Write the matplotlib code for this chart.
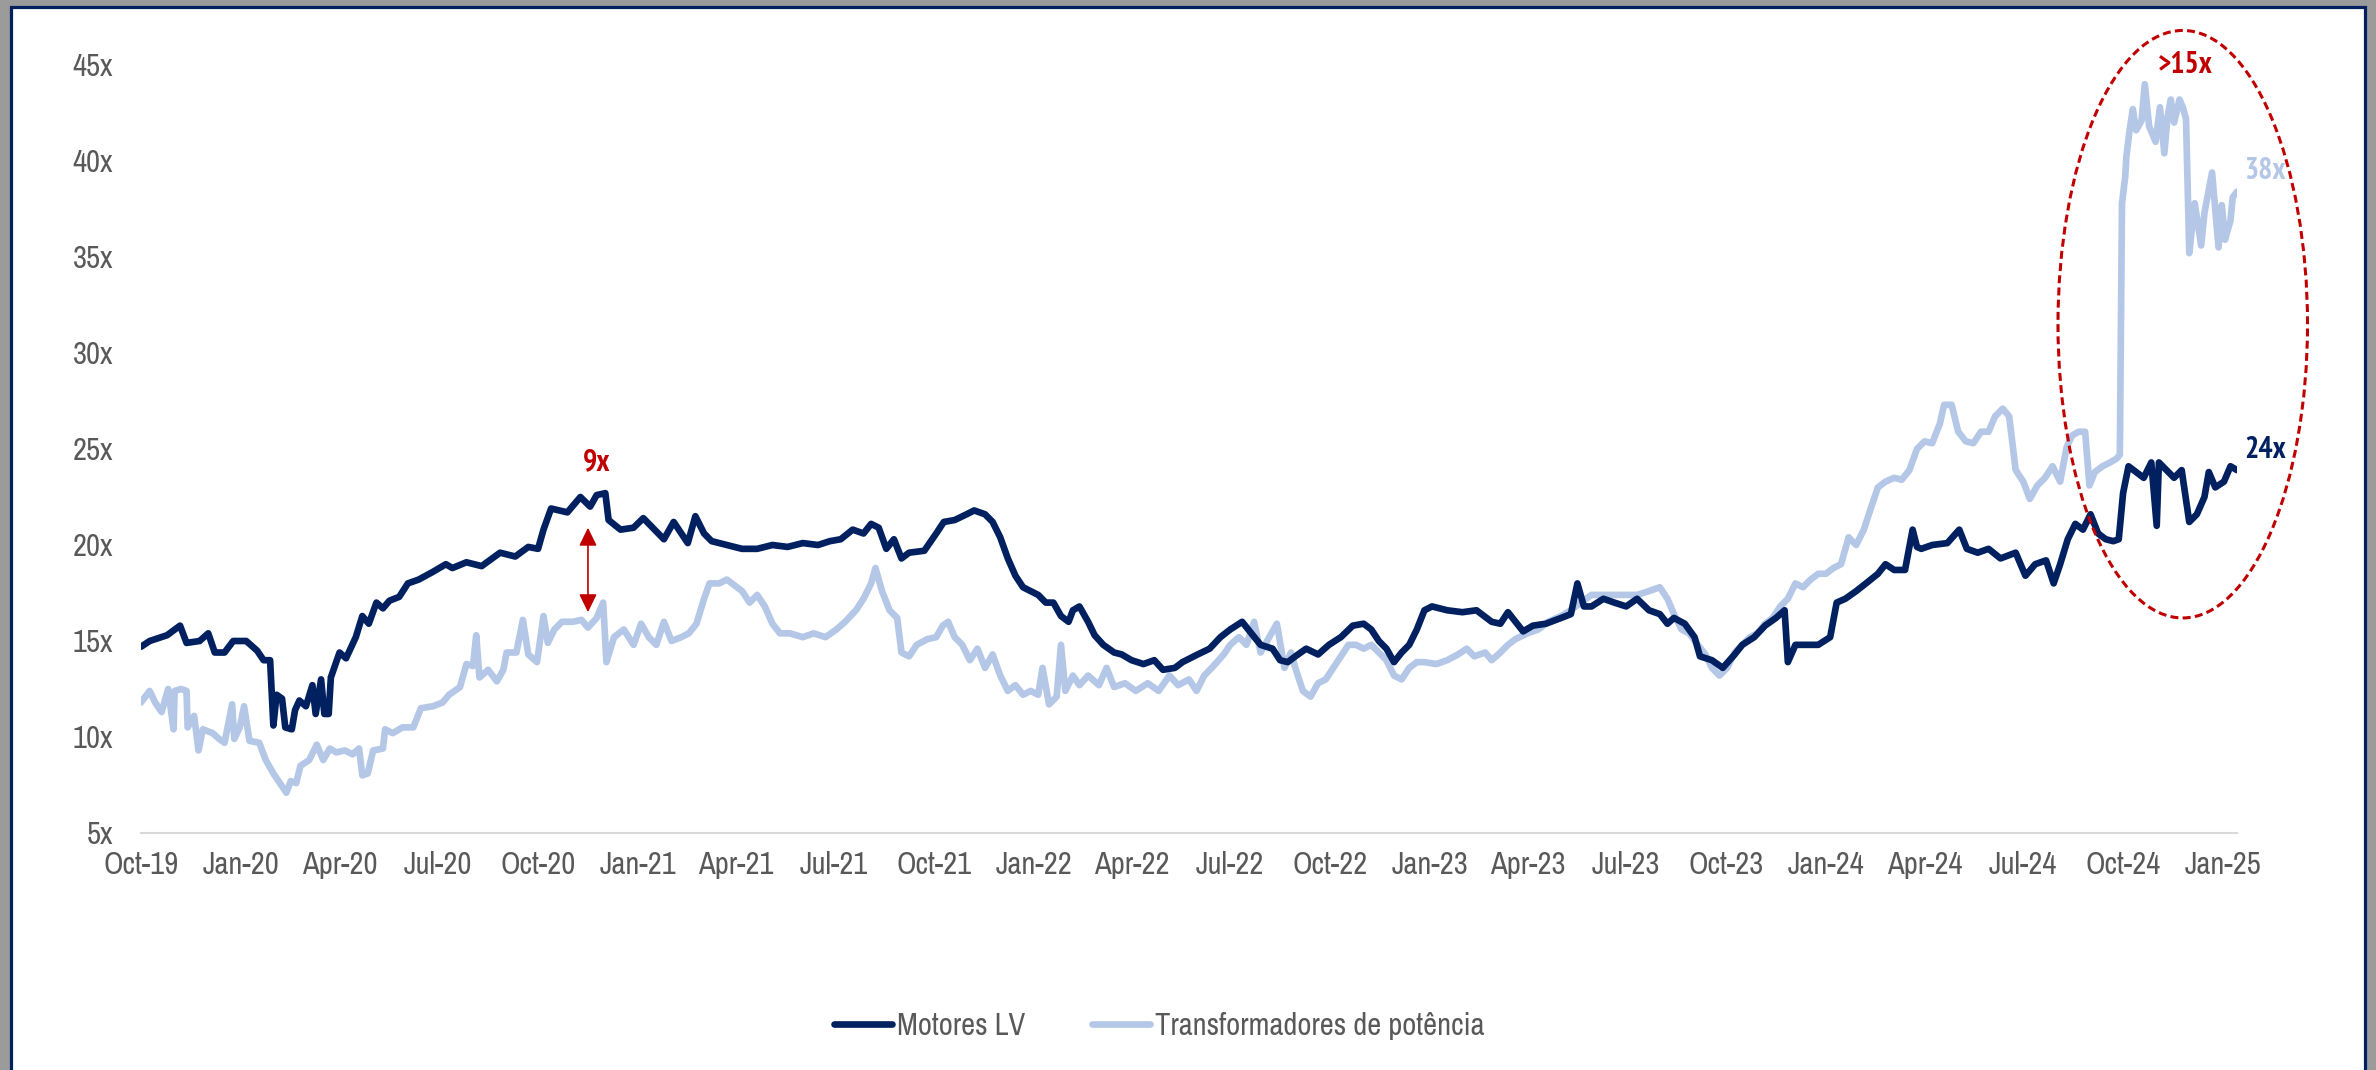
import matplotlib
matplotlib.use("Agg")
import matplotlib.pyplot as plt
import matplotlib.dates as mdates
from matplotlib import font_manager
from matplotlib.patches import Ellipse, Rectangle
import pandas as pd

#%% data

motores_dates = [
    "2019-10-01", "2019-10-09", "2019-10-25", "2019-11-06", "2019-11-12", "2019-11-24", "2019-12-02",
    "2019-12-08", "2019-12-17", "2019-12-25", "2020-01-06", "2020-01-16", "2020-01-22", "2020-01-28",
    "2020-01-31", "2020-02-03", "2020-02-08", "2020-02-11", "2020-02-17", "2020-02-20", "2020-02-24",
    "2020-03-01", "2020-03-07", "2020-03-10", "2020-03-15", "2020-03-18", "2020-03-22", "2020-03-24",
    "2020-04-01", "2020-04-07", "2020-04-16", "2020-04-22", "2020-04-28", "2020-05-05", "2020-05-11",
    "2020-05-17", "2020-05-26", "2020-06-03", "2020-06-13", "2020-06-26", "2020-07-08", "2020-07-14",
    "2020-07-27", "2020-08-10", "2020-08-27", "2020-09-10", "2020-09-22", "2020-10-01", "2020-10-06",
    "2020-10-13", "2020-10-28", "2020-11-09", "2020-11-18", "2020-11-24", "2020-12-02", "2020-12-05",
    "2020-12-16", "2020-12-28", "2021-01-06", "2021-01-25", "2021-02-03", "2021-02-16", "2021-02-23",
    "2021-03-03", "2021-03-10", "2021-03-24", "2021-04-07", "2021-04-21", "2021-05-05", "2021-05-19",
    "2021-06-02", "2021-06-16", "2021-06-27", "2021-07-07", "2021-07-18", "2021-07-28", "2021-08-04",
    "2021-08-11", "2021-08-18", "2021-08-25", "2021-09-01", "2021-09-08", "2021-09-22", "2021-10-03",
    "2021-10-10", "2021-10-20", "2021-10-31", "2021-11-07", "2021-11-17", "2021-11-24", "2021-12-01",
    "2021-12-08", "2021-12-15", "2021-12-22", "2021-12-29", "2022-01-05", "2022-01-12", "2022-01-19",
    "2022-01-26", "2022-02-02", "2022-02-06", "2022-02-12", "2022-02-20", "2022-02-26", "2022-03-06",
    "2022-03-16", "2022-03-23", "2022-04-01", "2022-04-12", "2022-04-22", "2022-04-30", "2022-05-11",
    "2022-05-18", "2022-06-01", "2022-06-12", "2022-06-22", "2022-07-01", "2022-07-12", "2022-07-19",
    "2022-07-29", "2022-08-09", "2022-08-16", "2022-08-23", "2022-08-30", "2022-09-09", "2022-09-20",
    "2022-09-30", "2022-10-11", "2022-10-22", "2022-11-01", "2022-11-08", "2022-11-15", "2022-11-22",
    "2022-11-29", "2022-12-06", "2022-12-13", "2022-12-20", "2022-12-27", "2023-01-03", "2023-01-17",
    "2023-01-31", "2023-02-13", "2023-02-27", "2023-03-07", "2023-03-14", "2023-03-28", "2023-04-06",
    "2023-04-18", "2023-05-02", "2023-05-11", "2023-05-17", "2023-05-23", "2023-05-30", "2023-06-10",
    "2023-06-20", "2023-07-01", "2023-07-11", "2023-07-22", "2023-08-01", "2023-08-08", "2023-08-14",
    "2023-08-24", "2023-09-02", "2023-09-07", "2023-09-18", "2023-09-28", "2023-10-09", "2023-10-16",
    "2023-10-27", "2023-11-06", "2023-11-16", "2023-11-24", "2023-11-27", "2023-12-04", "2023-12-14",
    "2023-12-25", "2024-01-05", "2024-01-11", "2024-01-19", "2024-01-29", "2024-02-07", "2024-02-18",
    "2024-02-25", "2024-03-04", "2024-03-14", "2024-03-21", "2024-03-25", "2024-03-29", "2024-04-08",
    "2024-04-22", "2024-05-03", "2024-05-10", "2024-05-20", "2024-05-30", "2024-06-10", "2024-06-24",
    "2024-07-03", "2024-07-12", "2024-07-22", "2024-07-29", "2024-08-04", "2024-08-11", "2024-08-18",
    "2024-08-25", "2024-09-01", "2024-09-08", "2024-09-15", "2024-09-22", "2024-09-27", "2024-10-01",
    "2024-10-06", "2024-10-13", "2024-10-20", "2024-10-27", "2024-11-01", "2024-11-03", "2024-11-10",
    "2024-11-17", "2024-11-24", "2024-12-01", "2024-12-08", "2024-12-15", "2024-12-19", "2024-12-25",
    "2025-01-02", "2025-01-08", "2025-01-14",
]
motores_vals = [
    14.7, 15.0, 15.3, 15.8, 14.9, 15.0, 15.4,
    14.4, 14.4, 15.0, 15.0, 14.5, 14.0, 14.0,
    10.6, 12.2, 12.0, 10.5, 10.4, 11.4, 11.9,
    11.6, 12.7, 11.2, 13.0, 11.2, 11.2, 13.1,
    14.4, 14.1, 15.2, 16.3, 15.9, 17.0, 16.7,
    17.1, 17.3, 18.0, 18.2, 18.6, 19.0, 18.8,
    19.1, 18.9, 19.6, 19.4, 19.9, 19.8, 20.8,
    21.9, 21.7, 22.5, 22.0, 22.6, 22.7, 21.3,
    20.8, 20.9, 21.4, 20.3, 21.2, 20.1, 21.5,
    20.6, 20.2, 20.0, 19.8, 19.8, 20.0, 19.9,
    20.1, 20.0, 20.2, 20.3, 20.8, 20.6, 21.1,
    20.9, 19.8, 20.3, 19.3, 19.6, 19.7, 20.6,
    21.2, 21.3, 21.6, 21.8, 21.6, 21.2, 20.4,
    19.3, 18.4, 17.8, 17.6, 17.4, 17.0, 17.0,
    16.3, 16.0, 16.6, 16.8, 16.0, 15.3, 14.8,
    14.4, 14.3, 14.0, 13.8, 14.0, 13.5, 13.6,
    13.9, 14.3, 14.6, 15.2, 15.6, 16.0, 15.5,
    14.8, 14.6, 14.0, 13.9, 14.2, 14.6, 14.3,
    14.8, 15.2, 15.8, 15.9, 15.6, 15.0, 14.6,
    13.9, 14.4, 14.8, 15.6, 16.6, 16.8, 16.6,
    16.5, 16.6, 16.0, 15.9, 16.5, 15.5, 15.8,
    15.9, 16.2, 16.4, 18.0, 16.8, 16.8, 17.2,
    17.0, 16.8, 17.2, 16.6, 16.4, 15.9, 16.2,
    15.9, 15.2, 14.2, 14.0, 13.6, 14.3, 14.8,
    15.2, 15.8, 16.2, 16.6, 13.9, 14.8, 14.8,
    14.8, 15.2, 17.0, 17.2, 17.6, 18.0, 18.5,
    19.0, 18.7, 18.7, 20.8, 19.9, 19.8, 20.0,
    20.1, 20.8, 19.8, 19.6, 19.8, 19.3, 19.6,
    18.4, 19.0, 19.2, 18.0, 19.0, 20.3, 21.1,
    20.8, 21.6, 20.6, 20.3, 20.2, 20.3, 22.7,
    24.1, 23.8, 23.5, 24.3, 21.0, 24.3, 23.9,
    23.5, 23.9, 21.2, 21.6, 22.5, 23.8, 23.0,
    23.3, 24.1, 23.9,
]

trafo_dates = [
    "2019-10-01", "2019-10-09", "2019-10-14", "2019-10-20", "2019-10-26", "2019-10-31", "2019-11-01",
    "2019-11-07", "2019-11-12", "2019-11-13", "2019-11-19", "2019-11-23", "2019-11-27", "2019-12-06",
    "2019-12-12", "2019-12-17", "2019-12-24", "2019-12-26", "2019-12-31", "2020-01-04", "2020-01-09",
    "2020-01-18", "2020-01-24", "2020-01-31", "2020-02-06", "2020-02-12", "2020-02-16", "2020-02-21",
    "2020-02-25", "2020-03-04", "2020-03-11", "2020-03-17", "2020-03-23", "2020-03-29", "2020-04-06",
    "2020-04-13", "2020-04-19", "2020-04-22", "2020-04-27", "2020-05-02", "2020-05-11", "2020-05-13",
    "2020-05-20", "2020-05-29", "2020-06-08", "2020-06-15", "2020-06-26", "2020-07-05", "2020-07-11",
    "2020-07-21", "2020-07-27", "2020-08-02", "2020-08-05", "2020-08-08", "2020-08-16", "2020-08-24",
    "2020-08-30", "2020-09-02", "2020-09-11", "2020-09-17", "2020-09-22", "2020-09-30", "2020-10-06",
    "2020-10-10", "2020-10-16", "2020-10-23", "2020-11-02", "2020-11-10", "2020-11-16", "2020-11-24",
    "2020-11-30", "2020-12-03", "2020-12-10", "2020-12-19", "2020-12-28", "2021-01-04", "2021-01-11",
    "2021-01-18", "2021-01-25", "2021-02-01", "2021-02-10", "2021-02-17", "2021-02-24", "2021-03-03",
    "2021-03-08", "2021-03-17", "2021-03-24", "2021-03-31", "2021-04-07", "2021-04-14", "2021-04-21",
    "2021-04-28", "2021-05-05", "2021-05-12", "2021-05-21", "2021-06-02", "2021-06-12", "2021-06-23",
    "2021-07-03", "2021-07-11", "2021-07-21", "2021-07-28", "2021-08-04", "2021-08-08", "2021-08-14",
    "2021-08-21", "2021-08-28", "2021-09-01", "2021-09-08", "2021-09-15", "2021-09-25", "2021-10-03",
    "2021-10-09", "2021-10-14", "2021-10-20", "2021-10-27", "2021-11-03", "2021-11-10", "2021-11-17",
    "2021-11-24", "2021-12-01", "2021-12-08", "2021-12-15", "2021-12-22", "2021-12-29", "2022-01-05",
    "2022-01-09", "2022-01-15", "2022-01-22", "2022-01-26", "2022-01-30", "2022-02-06", "2022-02-12",
    "2022-02-20", "2022-03-02", "2022-03-09", "2022-03-16", "2022-03-26", "2022-04-05", "2022-04-16",
    "2022-04-26", "2022-05-06", "2022-05-14", "2022-05-24", "2022-05-31", "2022-06-07", "2022-06-14",
    "2022-06-25", "2022-07-01", "2022-07-09", "2022-07-16", "2022-07-23", "2022-07-29", "2022-08-06",
    "2022-08-13", "2022-08-20", "2022-08-26", "2022-08-30", "2022-09-06", "2022-09-13", "2022-09-20",
    "2022-09-27", "2022-10-04", "2022-10-11", "2022-10-18", "2022-10-25", "2022-11-01", "2022-11-08",
    "2022-11-15", "2022-11-22", "2022-11-29", "2022-12-06", "2022-12-13", "2022-12-20", "2022-12-27",
    "2023-01-07", "2023-01-17", "2023-01-27", "2023-02-04", "2023-02-11", "2023-02-21", "2023-02-27",
    "2023-03-07", "2023-03-14", "2023-03-21", "2023-04-01", "2023-04-11", "2023-04-20", "2023-05-02",
    "2023-05-11", "2023-05-20", "2023-05-30", "2023-06-10", "2023-06-20", "2023-06-29", "2023-07-11",
    "2023-07-22", "2023-08-01", "2023-08-08", "2023-08-14", "2023-08-21", "2023-08-28", "2023-09-05",
    "2023-09-12", "2023-09-18", "2023-09-25", "2023-10-02", "2023-10-09", "2023-10-16", "2023-10-23",
    "2023-10-30", "2023-11-06", "2023-11-13", "2023-11-20", "2023-11-27", "2023-12-04", "2023-12-11",
    "2023-12-18", "2023-12-25", "2024-01-01", "2024-01-08", "2024-01-15", "2024-01-22", "2024-01-29",
    "2024-02-05", "2024-02-12", "2024-02-18", "2024-02-25", "2024-03-04", "2024-03-11", "2024-03-18",
    "2024-03-25", "2024-04-01", "2024-04-08", "2024-04-15", "2024-04-19", "2024-04-26", "2024-05-02",
    "2024-05-09", "2024-05-16", "2024-05-23", "2024-05-30", "2024-06-05", "2024-06-12", "2024-06-18",
    "2024-06-24", "2024-07-01", "2024-07-07", "2024-07-14", "2024-07-21", "2024-07-28", "2024-08-04",
    "2024-08-10", "2024-08-15", "2024-08-21", "2024-08-27", "2024-08-31", "2024-09-05", "2024-09-12",
    "2024-09-19", "2024-09-25", "2024-09-28", "2024-09-30", "2024-10-03", "2024-10-04", "2024-10-07",
    "2024-10-10", "2024-10-13", "2024-10-18", "2024-10-21", "2024-10-25", "2024-10-31", "2024-11-04",
    "2024-11-08", "2024-11-11", "2024-11-14", "2024-11-17", "2024-11-22", "2024-11-25", "2024-11-28",
    "2024-12-01", "2024-12-06", "2024-12-12", "2024-12-15", "2024-12-22", "2024-12-28", "2024-12-31",
    "2025-01-03", "2025-01-08", "2025-01-10", "2025-01-14",
]
trafo_vals = [
    11.8, 12.4, 11.8, 11.3, 12.5, 10.4, 12.4,
    12.5, 12.4, 10.5, 11.1, 9.3, 10.4, 10.2,
    9.9, 9.7, 11.7, 9.9, 10.5, 11.6, 9.8,
    9.7, 8.8, 8.1, 7.6, 7.1, 7.7, 7.6,
    8.5, 8.8, 9.6, 8.8, 9.4, 9.2, 9.3,
    9.1, 9.4, 8.0, 8.1, 9.3, 9.4, 10.4,
    10.2, 10.5, 10.5, 11.5, 11.6, 11.8, 12.2,
    12.6, 13.8, 13.7, 15.3, 13.1, 13.5, 12.9,
    13.5, 14.4, 14.4, 16.1, 14.3, 13.9, 16.3,
    14.9, 15.6, 16.0, 16.0, 16.1, 15.7, 16.2,
    17.0, 13.9, 15.2, 15.6, 14.8, 15.9, 15.2,
    14.8, 16.0, 15.0, 15.2, 15.4, 15.9, 17.2,
    18.0, 18.0, 18.2, 17.9, 17.6, 17.0, 17.4,
    16.8, 15.9, 15.4, 15.4, 15.2, 15.4, 15.2,
    15.6, 16.0, 16.6, 17.2, 18.0, 18.8, 17.6,
    16.6, 16.2, 14.4, 14.2, 14.8, 15.1, 15.2,
    15.8, 16.0, 15.2, 14.8, 14.0, 14.6, 13.6,
    14.3, 13.2, 12.4, 12.7, 12.2, 12.4, 12.2,
    13.6, 11.7, 12.1, 14.8, 12.4, 13.2, 12.7,
    13.2, 12.7, 13.6, 12.6, 12.8, 12.4, 12.8,
    12.4, 13.2, 12.7, 13.0, 12.4, 13.2, 13.6,
    14.3, 14.8, 15.2, 14.8, 16.0, 14.4, 15.2,
    15.9, 13.6, 14.4, 13.6, 12.4, 12.1, 12.8,
    13.0, 13.6, 14.2, 14.8, 14.8, 14.6, 14.8,
    14.4, 14.0, 13.2, 13.0, 13.6, 13.9, 13.9,
    13.8, 14.0, 14.3, 14.6, 14.2, 14.4, 14.0,
    14.4, 14.8, 15.1, 15.4, 15.6, 16.0, 16.3,
    16.6, 17.0, 17.4, 17.4, 17.4, 17.4, 17.4,
    17.6, 17.8, 17.2, 16.4, 15.6, 15.4, 14.8,
    14.3, 13.6, 13.2, 13.6, 14.4, 14.8, 15.2,
    15.4, 15.9, 16.2, 16.8, 17.2, 18.0, 17.8,
    18.2, 18.5, 18.5, 18.8, 19.0, 20.4, 20.0,
    20.8, 22.0, 23.0, 23.3, 23.5, 23.4, 23.9,
    25.0, 25.4, 25.3, 26.3, 27.3, 27.3, 25.9,
    25.4, 25.3, 25.9, 25.9, 26.7, 27.1, 26.7,
    23.9, 23.3, 22.4, 23.1, 23.5, 24.1, 23.3,
    25.1, 25.7, 25.9, 25.9, 23.1, 23.8, 24.1,
    24.3, 24.5, 24.7, 37.8, 39.2, 40.2, 41.6,
    42.7, 41.6, 42.1, 44.0, 41.8, 41.0, 42.8,
    40.4, 42.3, 43.2, 42.0, 43.2, 42.8, 42.2,
    35.2, 37.8, 35.6, 37.3, 39.4, 35.5, 37.7,
    35.9, 36.9, 38.1, 38.4,
]

y_ticks = [5, 10, 15, 20, 25, 30, 35, 40, 45]
series_names = ["Motores LV", "Transformadores de potência"]

#%% style

navy = "#002060"
light = "#B4C7E7"
red = "#C00000"
grey_txt = "#595959"

# the original uses a narrow Arial; take a narrow/condensed face if one is installed
ttf = font_manager.fontManager.ttflist
names = sorted({f.name for f in ttf})
narrow = [n for n in names if n == "Liberation Sans Narrow"]
narrow += [n for n in names if "Narrow" in n and n not in narrow]
narrow += [n for n in names if "Condensed" in n]


def has_bold(name):
    for f in ttf:
        if f.name == name:
            w = f.weight
            if (isinstance(w, int) and w >= 600) or (isinstance(w, str) and "bold" in w):
                return True
    return False


fonts = narrow[:1] + ["Liberation Sans", "DejaVu Sans"]
plt.rcParams["font.family"] = fonts
fs = 22 if narrow else 19.5
bold_narrow = [n for n in narrow if has_bold(n)][:1]
bold_fonts = bold_narrow + ["Liberation Sans", "DejaVu Sans"]
fs_bold = 21.5 if bold_narrow else 18

fig = plt.figure(figsize=(23.76, 10.70), dpi=100, facecolor="#9b9b9b")
fig.add_artist(Rectangle((10.5 / 2376, -0.02), 2354.5 / 2376, 1.02 - 6.5 / 1070,
                         transform=fig.transFigure, facecolor="white",
                         edgecolor=navy, linewidth=2.3, zorder=-10))

ax = fig.add_axes([141 / 2376, 237 / 1070, 2096 / 2376, 768 / 1070])
ax.set_facecolor("none")

md = pd.to_datetime(motores_dates)
td = pd.to_datetime(trafo_dates)
l_trafo, = ax.plot(td, trafo_vals, color=light, lw=4.8, solid_joinstyle="round",
                   solid_capstyle="round", zorder=2)
l_mot, = ax.plot(md, motores_vals, color=navy, lw=4.8, solid_joinstyle="round",
                 solid_capstyle="round", zorder=3)

ax.set_xlim(pd.Timestamp("2019-10-01"), pd.Timestamp("2025-01-14"))
ax.set_ylim(5, 45)
ax.set_yticks(y_ticks)
ax.set_yticklabels([f"{v}x" for v in y_ticks])
ax.xaxis.set_major_locator(mdates.MonthLocator(bymonth=[1, 4, 7, 10]))
ax.xaxis.set_major_formatter(mdates.DateFormatter("%b-%y"))

for s in ["top", "right", "left"]:
    ax.spines[s].set_visible(False)
ax.spines["bottom"].set_color("#D9D9D9")
ax.spines["bottom"].set_linewidth(1.5)
ax.tick_params(axis="both", length=0, labelsize=fs, labelcolor=grey_txt)
ax.tick_params(axis="y", pad=20)
ax.tick_params(axis="x", pad=13)

#%% annotations

bold = dict(family=bold_fonts, fontsize=fs_bold, fontweight="bold", va="center")

ax.annotate("", xy=(pd.Timestamp("2020-11-16"), 20.9), xytext=(pd.Timestamp("2020-11-16"), 16.5),
            arrowprops=dict(arrowstyle="<|-|>,head_length=0.55,head_width=0.27", color=red,
                            lw=1.2, shrinkA=0, shrinkB=0, mutation_scale=20))
ax.text(pd.Timestamp("2020-11-24"), 24.3, "9x", color=red, ha="center", **bold)

ell = Ellipse((mdates.date2num(pd.Timestamp("2024-11-25")), 31.5), 230, 30.6,
              fill=False, edgecolor=red, lw=2.2, linestyle=(0, (2.6, 1.4)), clip_on=False, zorder=4)
ax.add_patch(ell)
ax.text(pd.Timestamp("2024-11-27"), 45.0, ">15x", color=red, ha="center", **bold)
ax.text(pd.Timestamp("2025-01-21"), 39.5, "38x", color=light, ha="left", **bold)
ax.text(pd.Timestamp("2025-01-21"), 24.95, "24x", color=navy, ha="left", **bold)

fig.legend([l_mot, l_trafo], series_names, loc="center", bbox_to_anchor=(1159 / 2376, 44 / 1070),
           ncol=2, frameon=False, fontsize=fs, handlelength=1.9, handletextpad=0.15,
           columnspacing=2.2, labelcolor=grey_txt)

fig.savefig("out.png", dpi=100, facecolor=fig.get_facecolor())
